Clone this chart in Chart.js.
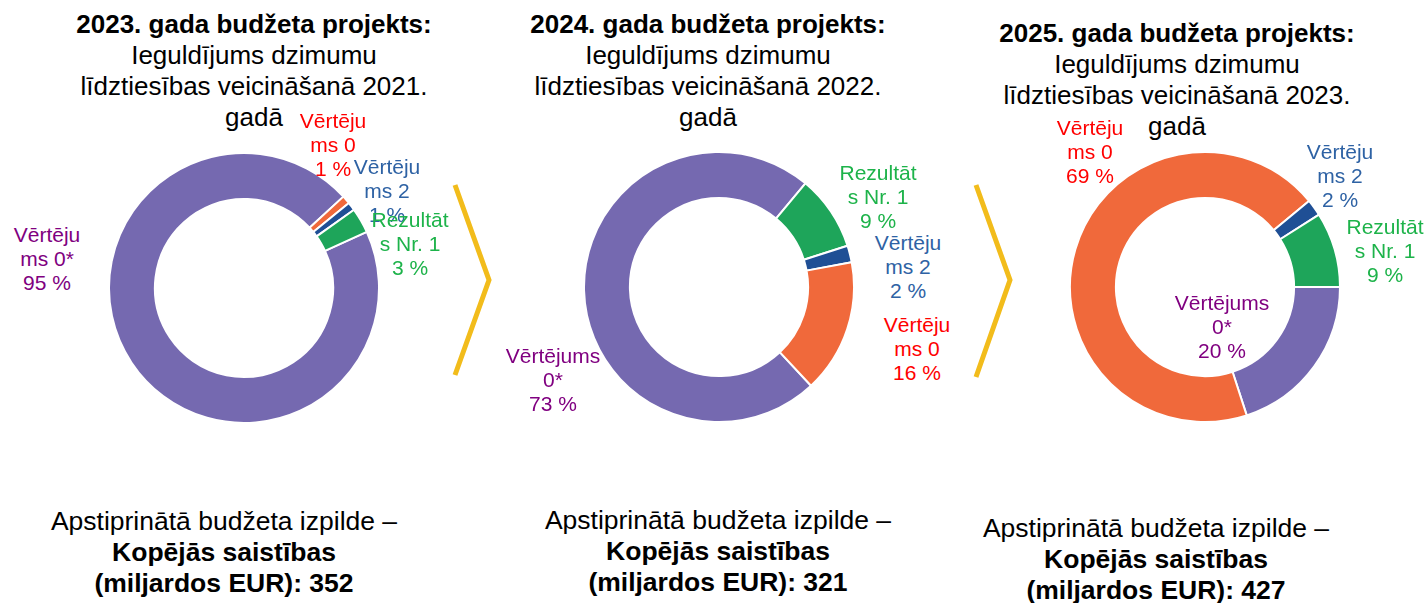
<!DOCTYPE html>
<html>
<head>
<meta charset="utf-8">
<script src="https://cdn.jsdelivr.net/npm/chart.js@4"></script>
<style>
  body { margin: 0; background: #fff; font-family: "Liberation Sans", Arial, sans-serif; }
  #page { position: relative; width: 1427px; height: 603px; overflow: hidden; }
  .txt { position: absolute; transform: translate(-50%, 0); text-align: center; white-space: nowrap; color: #000; }
  .title { font-size: 26px; line-height: 31px; }
  .foot { font-size: 26.5px; line-height: 31px; }
  .lbl { font-size: 21px; line-height: 24px; }
  canvas { position: absolute; }
</style>
</head>
<body>
<div id="page"></div>
<script>
// categories and shares (%) per year
const categories = ['Vērtējums 0*', 'Vērtējums 0', 'Vērtējums 2', 'Rezultāts Nr. 1'];
const share2021 = [95, 1, 1, 3];
const share2022 = [73, 16, 2, 9];
const share2023 = [20, 69, 2, 9];
const totals = [352, 321, 427];
const budgetYears = [2023, 2024, 2025];
const dataYears = [2021, 2022, 2023];

const sliceColors = ['#7569b0', '#f0693b', '#1f4f95', '#1ea55a'];
const labelColors = ['#800080', '#ff0000', '#2e62a4', '#1db34a'];

// clockwise drawing order of the slices in each ring
const order2021 = [0, 1, 2, 3];
const order2022 = [0, 3, 2, 1];
const order2023 = [0, 1, 2, 3];

// wrapped label text as it appears next to each ring
const labelLines2021 = [['Vērtēju', 'ms 0*', '95 %'], ['Vērtēju', 'ms 0', '1 %'], ['Vērtēju', 'ms 2', '1 %'], ['Rezultāt', 's Nr. 1', '3 %']];
const labelLines2022 = [['Vērtējums', '0*', '73 %'], ['Vērtēju', 'ms 0', '16 %'], ['Vērtēju', 'ms 2', '2 %'], ['Rezultāt', 's Nr. 1', '9 %']];
const labelLines2023 = [['Vērtējums', '0*', '20 %'], ['Vērtēju', 'ms 0', '69 %'], ['Vērtēju', 'ms 2', '2 %'], ['Rezultāt', 's Nr. 1', '9 %']];

const panels = [
  { values: share2021, order: order2021, lines: labelLines2021, rotation: 65.4, cx: 244, cy: 288, titleY: 9, footY: 506,
    labelPos: [[47, 223], [333, 109], [387, 155], [410, 208]] },
  { values: share2022, order: order2022, lines: labelLines2022, rotation: 137, cx: 719, cy: 287, titleY: 9, footY: 505,
    labelPos: [[553, 344], [917, 313], [908, 231], [878, 161]] },
  { values: share2023, order: order2023, lines: labelLines2023, rotation: 90, cx: 1205, cy: 287, titleY: 18, footY: 513,
    labelPos: [[1222, 291], [1090, 116], [1340, 140], [1385, 215]] }
];
const titleX = [254, 708, 1177];
const footX = [224, 718, 1156];

const page = document.getElementById('page');
function addText(cls, x, y, html, color) {
  const d = document.createElement('div');
  d.className = 'txt ' + cls;
  d.style.left = x + 'px';
  d.style.top = y + 'px';
  if (color) d.style.color = color;
  d.innerHTML = html;
  page.appendChild(d);
}

const SIZE = 272;
panels.forEach((p, i) => {
  addText('title', titleX[i], p.titleY,
    `<b>${budgetYears[i]}. gada budžeta projekts:</b><br>Ieguldījums dzimumu<br>līdztiesības veicināšanā ${dataYears[i]}.<br>gadā`);
  addText('foot', footX[i], p.footY,
    `Apstiprinātā budžeta izpilde –<br><b>Kopējās saistības<br>(miljardos EUR): ${totals[i]}</b>`);

  const cv = document.createElement('canvas');
  cv.width = SIZE; cv.height = SIZE;
  cv.style.left = (p.cx - SIZE / 2) + 'px';
  cv.style.top = (p.cy - SIZE / 2) + 'px';
  page.appendChild(cv);

  new Chart(cv, {
    type: 'doughnut',
    data: {
      labels: p.order.map(k => categories[k]),
      datasets: [{
        data: p.order.map(k => p.values[k]),
        backgroundColor: p.order.map(k => sliceColors[k]),
        borderColor: '#ffffff',
        borderWidth: 2,
        hoverOffset: 0
      }]
    },
    options: {
      responsive: false,
      animation: false,
      cutout: '66%',
      rotation: p.rotation,
      layout: { padding: 0 },
      plugins: { legend: { display: false }, tooltip: { enabled: false } }
    }
  });

  p.labelPos.forEach((pos, k) => {
    addText('lbl', pos[0], pos[1], p.lines[k].join('<br>'), labelColors[k]);
  });
});

// yellow chevrons between the panels
const svgNS = 'http://www.w3.org/2000/svg';
const svg = document.createElementNS(svgNS, 'svg');
svg.setAttribute('width', 1427); svg.setAttribute('height', 603);
svg.style.position = 'absolute'; svg.style.left = '0'; svg.style.top = '0';
[[455, 185, 489, 280, 455, 375], [976, 185, 1010, 280, 976, 377]].forEach(c => {
  const pl = document.createElementNS(svgNS, 'polyline');
  pl.setAttribute('points', `${c[0]},${c[1]} ${c[2]},${c[3]} ${c[4]},${c[5]}`);
  pl.setAttribute('fill', 'none');
  pl.setAttribute('stroke', '#f2bc1b');
  pl.setAttribute('stroke-width', 5);
  svg.appendChild(pl);
});
page.appendChild(svg);
</script>
</body>
</html>
